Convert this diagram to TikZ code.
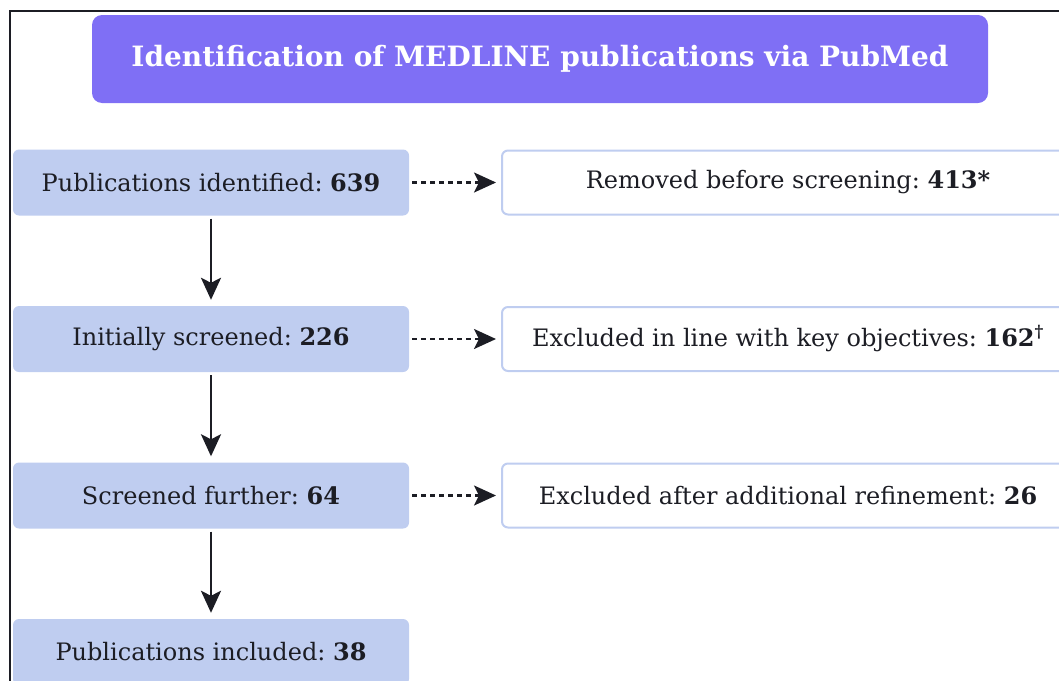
\documentclass[tikz,border=0pt]{standalone}
\usepackage{fontspec}
\setmainfont{DejaVu Serif}
\frenchspacing
\usetikzlibrary{positioning, arrows.meta}

\definecolor{titlepurple}{RGB}{127,111,245}
\definecolor{stageblue}{RGB}{191,205,240}
\definecolor{inkdark}{RGB}{28,29,36}

\tikzset{
    stagebox/.style={fill=stageblue, rounded corners=6pt, minimum width=396pt,
        minimum height=66pt, inner sep=0pt, text=inkdark,
        font=\fontsize{24}{28}\selectfont},
    exclbox/.style={draw=stageblue, line width=2pt, fill=white, rounded corners=6pt,
        minimum width=572pt, minimum height=64pt, inner sep=0pt, text=inkdark,
        font=\fontsize{24}{28}\selectfont},
    flow/.style={draw=inkdark, line width=2.8pt, -{Stealth[length=22pt, width=20pt, inset=5pt]}},
    sideflow/.style={flow, line width=2.4pt, dash pattern=on 5pt off 4pt},
}

\begin{document}
\begin{tikzpicture}[x=1pt, y=-1pt]
    \useasboundingbox (0,0) rectangle (1059,680);
    \clip (0,0) rectangle (1059,680);

    % ==========================================
    % Frame and title
    % ==========================================
    \draw[inkdark, line width=1.3pt] (10,690) -- (10,11) -- (1070,11);

    \node[fill=titlepurple, rounded corners=10pt, minimum width=896pt, minimum height=88pt,
        text=white, font=\bfseries\fontsize{28}{32}\selectfont] (title) at (540,59)
        {Identification of MEDLINE publications via PubMed};

    % ==========================================
    % Main stages (left column)
    % ==========================================
    \node[stagebox] (ident)   at (211,182.5) {Publications identified: \textbf{639}};
    \node[stagebox] (screen)  at (211,339)   {Initially screened: \textbf{226}};
    \node[stagebox] (further) at (211,495.5) {Screened further: \textbf{64}};
    \node[stagebox] (incl)    at (211,652)   {Publications included: \textbf{38}};

    % ==========================================
    % Exclusions (right column)
    % ==========================================
    \node[exclbox, anchor=west] (removed) at (501,182.5) {Removed before screening: \textbf{413*}};
    \node[exclbox, anchor=west] (objex)   at (501,339)   {Excluded in line with key objectives: \textbf{162}\textsuperscript{\textbf{\dag}}};
    \node[exclbox, anchor=west] (refex)   at (501,495.5) {Excluded after additional refinement: \textbf{26}};

    % Vertical flow
    \draw[flow, shorten <=3pt, shorten >=6pt] (ident) -- (screen);
    \draw[flow, shorten <=3pt, shorten >=6pt] (screen) -- (further);
    \draw[flow, shorten <=3pt, shorten >=6pt] (further) -- (incl);

    % Side exclusions
    \draw[sideflow, shorten <=3pt, shorten >=5pt] (ident) -- (removed);
    \draw[sideflow, shorten <=3pt, shorten >=5pt] (screen) -- (objex);
    \draw[sideflow, shorten <=3pt, shorten >=5pt] (further) -- (refex);
\end{tikzpicture}
\end{document}
